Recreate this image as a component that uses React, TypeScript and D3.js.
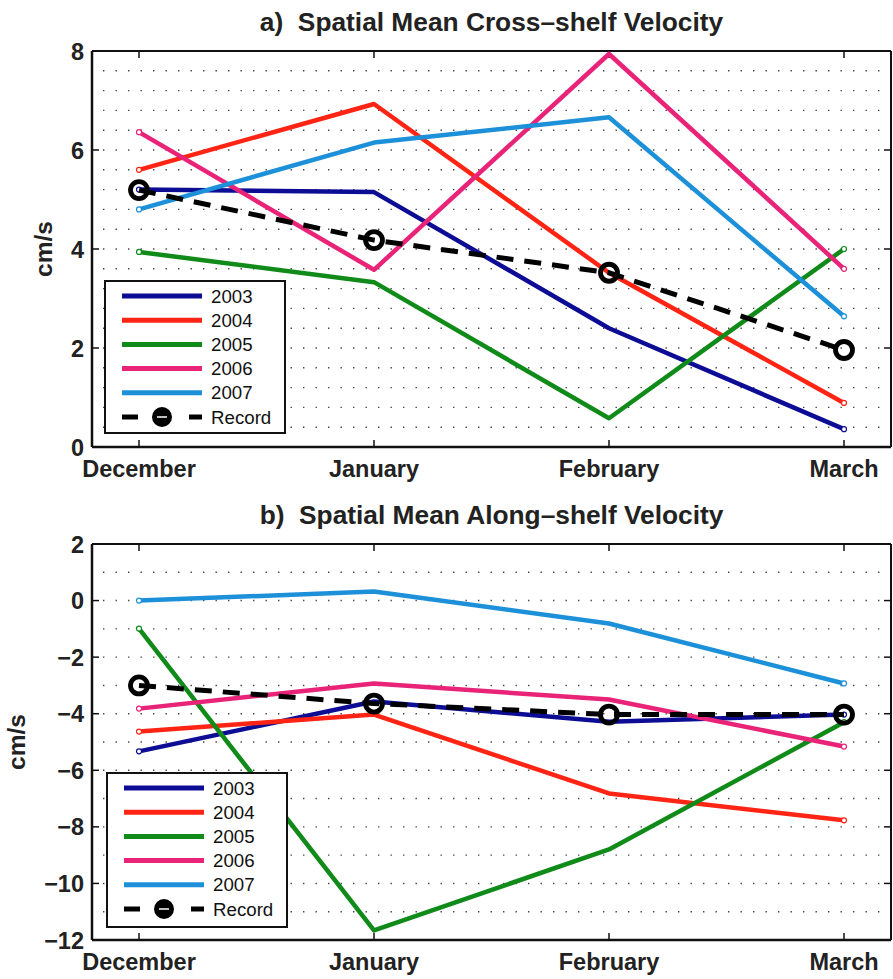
import React from "react";
import * as d3 from "d3";

const months = ["December", "January", "February", "March"];
const years = ["2003", "2004", "2005", "2006", "2007"];
const colors = ["#0c0c94", "#ff2414", "#108a18", "#e82378", "#1c90d8"];

const crossValues = [
  [5.2, 5.15, 2.4, 0.36],
  [5.6, 6.93, 3.52, 0.89],
  [3.94, 3.33, 0.58, 4.0],
  [6.36, 3.58, 7.94, 3.6],
  [4.8, 6.15, 6.66, 2.64],
];
const crossRecord = [5.19, 4.18, 3.52, 1.96];

const alongValues = [
  [-5.33, -3.57, -4.28, -4.03],
  [-4.63, -4.03, -6.82, -7.77],
  [-0.99, -11.66, -8.8, -4.3],
  [-3.82, -2.93, -3.5, -5.16],
  [0.0, 0.32, -0.81, -2.93],
];
const alongRecord = [-3.0, -3.64, -4.03, -4.03];

const crossTicks = [0, 2, 4, 6, 8];
const alongTicks = [-12, -10, -8, -6, -4, -2, 0, 2];
const crossGrid = d3.range(1, 20).map((i) => i * 0.4);
const alongGrid = d3.range(-11, 2, 1);

const FONT = "'Liberation Sans', Arial, Helvetica, sans-serif";

type PanelProps = {
  title: string;
  top: number;
  bottom: number;
  yDomain: [number, number];
  yTicks: number[];
  grid: number[];
  values: number[][];
  record: number[];
  yLabelX: number;
  legend: { x: number; y: number; w: number; h: number };
};

const LEFT = 92;
const RIGHT = 891;

function Panel(p: PanelProps) {
  const x = d3.scaleLinear().domain([-0.2, 3.2]).range([LEFT, RIGHT]);
  const y = d3.scaleLinear().domain(p.yDomain).range([p.bottom, p.top]);
  const line = d3
    .line<number>()
    .x((_, i) => x(i))
    .y((v) => y(v));
  const tickLen = 7;
  const lg = p.legend;
  const rowH = 24.2;
  return (
    <g>
      <text
        x={(LEFT + RIGHT) / 2}
        y={p.top - 20}
        textAnchor="middle"
        fontFamily={FONT}
        fontWeight="bold"
        fontSize={26.3}
        fill="#222"
        style={{ whiteSpace: "pre" }}
      >
        {p.title}
      </text>
      {/* grid */}
      {p.grid.map((g) => (
        <line
          key={"g" + g}
          x1={LEFT + 11}
          x2={RIGHT - 4}
          y1={y(g)}
          y2={y(g)}
          stroke="#444"
          strokeWidth={1.4}
          strokeDasharray="1.4,11.1"
        />
      ))}
      {/* axes box */}
      <line x1={LEFT} x2={RIGHT} y1={p.top} y2={p.top} stroke="#111" strokeWidth={2} />
      <line x1={LEFT} x2={RIGHT} y1={p.bottom} y2={p.bottom} stroke="#111" strokeWidth={2.5} />
      <line x1={LEFT} x2={LEFT} y1={p.top} y2={p.bottom} stroke="#111" strokeWidth={2.5} />
      <line x1={RIGHT} x2={RIGHT} y1={p.top} y2={p.bottom} stroke="#111" strokeWidth={2} />
      {months.map((m, i) => (
        <g key={m}>
          <line x1={x(i)} x2={x(i)} y1={p.bottom} y2={p.bottom - tickLen} stroke="#111" strokeWidth={1.5} />
          <line x1={x(i)} x2={x(i)} y1={p.top} y2={p.top + tickLen} stroke="#111" strokeWidth={1.5} />
          <text
            x={x(i)}
            y={p.bottom + 30}
            textAnchor="middle"
            fontFamily={FONT}
            fontWeight="bold"
            fontSize={23.5}
            fill="#222"
          >
            {m}
          </text>
        </g>
      ))}
      {p.yTicks.map((t) => (
        <g key={"t" + t}>
          <line x1={LEFT} x2={LEFT + tickLen} y1={y(t)} y2={y(t)} stroke="#111" strokeWidth={1.5} />
          <line x1={RIGHT} x2={RIGHT - tickLen} y1={y(t)} y2={y(t)} stroke="#111" strokeWidth={1.5} />
          <text
            x={LEFT - 8}
            y={y(t) + 8.5}
            textAnchor="end"
            fontFamily={FONT}
            fontWeight="bold"
            fontSize={23.5}
            fill="#222"
          >
            {t < 0 ? "\u2212" + Math.abs(t) : String(t)}
          </text>
        </g>
      ))}
      <text
        transform={`translate(${p.yLabelX},${(p.top + p.bottom) / 2}) rotate(-90)`}
        textAnchor="middle"
        fontFamily={FONT}
        fontWeight="bold"
        fontSize={24.5}
        fill="#222"
      >
        cm/s
      </text>
      {/* series */}
      {p.values.map((vals, k) => (
        <g key={years[k]}>
          <path d={line(vals) || ""} fill="none" stroke={colors[k]} strokeWidth={4.5} strokeLinejoin="round" />
          {[0, vals.length - 1].map((i) => (
            <circle key={i} cx={x(i)} cy={y(vals[i])} r={2.5} fill="white" stroke={colors[k]} strokeWidth={1.2} />
          ))}
        </g>
      ))}
      <path
        d={line(p.record) || ""}
        fill="none"
        stroke="#000"
        strokeWidth={5}
        strokeDasharray="17,11"
      />
      {p.record.map((v, i) => (
        <circle key={"r" + i} cx={x(i)} cy={y(v)} r={8.5} fill="none" stroke="#000" strokeWidth={4.8} />
      ))}
      {/* legend */}
      <rect x={lg.x} y={lg.y} width={lg.w} height={lg.h} fill="white" stroke="#111" strokeWidth={2} />
      {years.map((yr, k) => (
        <g key={"l" + yr}>
          <line
            x1={lg.x + 17}
            x2={lg.x + 97}
            y1={lg.y + 15 + k * rowH}
            y2={lg.y + 15 + k * rowH}
            stroke={colors[k]}
            strokeWidth={5}
          />
          <text x={lg.x + 106} y={lg.y + 21.5 + k * rowH} fontFamily={FONT} fontSize={18.7} fill="#111">
            {yr}
          </text>
        </g>
      ))}
      <g>
        <line x1={lg.x + 17} x2={lg.x + 33} y1={lg.y + 15 + 5 * rowH} y2={lg.y + 15 + 5 * rowH} stroke="#000" strokeWidth={5} />
        <line x1={lg.x + 84} x2={lg.x + 97} y1={lg.y + 15 + 5 * rowH} y2={lg.y + 15 + 5 * rowH} stroke="#000" strokeWidth={5} />
        <circle cx={lg.x + 57} cy={lg.y + 15 + 5 * rowH} r={8} fill="#000" stroke="#000" strokeWidth={4} />
        <line x1={lg.x + 52} x2={lg.x + 62} y1={lg.y + 15 + 5 * rowH} y2={lg.y + 15 + 5 * rowH} stroke="#fff" strokeWidth={1.5} />
        <text x={lg.x + 106} y={lg.y + 21.5 + 5 * rowH} fontFamily={FONT} fontSize={18.7} fill="#111">
          Record
        </text>
      </g>
    </g>
  );
}

export default function App() {
  return (
    <svg
      width={893}
      height={979}
      style={{ position: "absolute", left: 0, top: 0, background: "white" }}
    >
      <rect x={0} y={0} width={893} height={979} fill="white" />
      <Panel
        title={"a)  Spatial Mean Cross\u2013shelf Velocity"}
        top={51}
        bottom={447}
        yDomain={[0, 8]}
        yTicks={crossTicks}
        grid={crossGrid}
        values={crossValues}
        record={crossRecord}
        yLabelX={52}
        legend={{ x: 105, y: 281, w: 180, h: 152 }}
      />
      <Panel
        title={"b)  Spatial Mean Along\u2013shelf Velocity"}
        top={544}
        bottom={940}
        yDomain={[-12, 2]}
        yTicks={alongTicks}
        grid={alongGrid}
        values={alongValues}
        record={alongRecord}
        yLabelX={25}
        legend={{ x: 107, y: 773, w: 180, h: 154 }}
      />
    </svg>
  );
}
